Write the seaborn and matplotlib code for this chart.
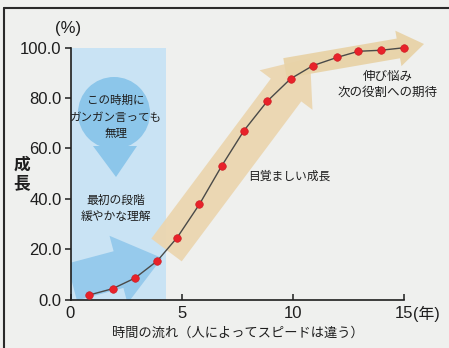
import matplotlib
matplotlib.use("Agg")
import matplotlib.pyplot as plt
import seaborn as sns
import pandas as pd
from matplotlib.patches import Rectangle, Circle, Polygon, FancyArrow

# ---- data -------------------------------------------------------------
years = [0.85, 1.9, 2.9, 3.9, 4.8, 5.8, 6.8, 7.8, 8.85, 9.9, 10.9, 12.0, 12.95, 13.95, 15.0]
growth = [1.8, 4.3, 8.5, 15.3, 24.6, 37.8, 53.0, 67.0, 78.7, 87.6, 92.8, 96.1, 98.5, 98.9, 99.9]

x_ticks = [0, 5, 10, 15]
y_ticks = [0, 20, 40, 60, 80, 100]
y_tick_labels = [f"{v:.1f}" for v in y_ticks]

x_unit = "(年)"
y_unit = "(%)"
y_title = "成\n長"
x_title = "時間の流れ（人によってスピードは違う）"
note_pressure = "この時期に\nガンガン言っても\n無理"
note_first = "最初の段階\n緩やかな理解"
note_growth = "目覚ましい成長"
note_plateau = "伸び悩み\n次の役割への期待"

df = pd.DataFrame({"year": years, "growth": growth})

# ---- style ------------------------------------------------------------
W, H = 449, 348
sns.set_theme(style="white")
plt.rcParams["font.family"] = ["Liberation Sans", "Noto Sans CJK JP", "DejaVu Sans"]
JP = ["Noto Sans CJK JP", "DejaVu Sans"]
INK = "#1e1e1e"

fig = plt.figure(figsize=(W / 100, H / 100), dpi=100)
fig.patch.set_facecolor("#eff0ee")

# page layer in pixel units (origin top-left) for the illustrations
bg = fig.add_axes([0, 0, 1, 1], zorder=0)
bg.set_xlim(0, W)
bg.set_ylim(H, 0)
bg.axis("off")

# plotting area
L, R, T, B = 70.5, 404.0, 47.5, 299.5
ax = fig.add_axes([L / W, (H - B) / H, (R - L) / W, (B - T) / H], zorder=1)
ax.patch.set_alpha(0)

# page frame
bg.plot([3.5, 3.5], [7.5, H], color="#2a2a2a", lw=1.5, clip_on=False)
bg.plot([3.5, W], [7.5, 7.5], color="#2a2a2a", lw=1.5, clip_on=False)

# early phase: blue band, drop-shaped arrow and a rising arrow
bg.add_patch(Rectangle((L, T), 95, B - T, fc="#c9e3f4", ec="none"))
bg.add_patch(Circle((114, 113), 36, fc="#8cc6ea", ec="none"))
bg.add_patch(Polygon([(93, 146), (137, 146), (116, 177)], closed=True, fc="#8cc6ea", ec="none"))
low_arrow = FancyArrow(72, 282, 90, -24, width=38, head_width=70, head_length=45,
                       length_includes_head=True, fc="#96caec", ec="none")
bg.add_patch(low_arrow)
low_arrow.set_clip_path(Rectangle((L, T), R - L, B - T, transform=bg.transData))

# growth phase and plateau arrows
bg.add_patch(FancyArrow(166.5, 250, 143.5, -192, width=38, head_width=66, head_length=40,
                        length_includes_head=True, fc="#ebd6b0", ec="none", alpha=0.95))
bg.add_patch(FancyArrow(285, 68, 139, -24, width=20, head_width=36, head_length=26,
                        length_includes_head=True, fc="#e8d3a8", ec="none", alpha=0.95))

# ---- growth curve -----------------------------------------------------
sns.lineplot(data=df, x="year", y="growth", ax=ax, color="#4a4a48", lw=1.0,
             sort=False, estimator=None, clip_on=False, zorder=3)
sns.scatterplot(data=df, x="year", y="growth", ax=ax, color="#e8222a", s=30,
                edgecolor="#c81a20", linewidth=0.4, clip_on=False, zorder=4)

ax.set_xlim(0, 15)
ax.set_ylim(0, 100)
ax.set_xticks(x_ticks)
ax.set_xticklabels([str(v) for v in x_ticks])
ax.set_yticks(y_ticks)
ax.set_yticklabels(y_tick_labels)
ax.set_xlabel("")
ax.set_ylabel("")
sns.despine(ax=ax)
for side in ("left", "bottom"):
    ax.spines[side].set_color(INK)
    ax.spines[side].set_linewidth(1.2)
ax.tick_params(axis="y", direction="out", length=4, width=1.1, color=INK,
               pad=2.5, labelsize=12, labelcolor=INK, left=True)
ax.tick_params(axis="x", direction="in", length=4, width=1.1, color=INK,
               pad=5, labelsize=12, labelcolor=INK, bottom=True)

# ---- texts ------------------------------------------------------------
bg.text(68, 28, y_unit, ha="center", va="center", fontsize=12, color=INK)
bg.text(413, 314, x_unit, ha="left", va="center", fontsize=11.5, color=INK)
bg.text(22, 174, y_title, ha="center", va="center", fontsize=12, fontweight="bold",
        linespacing=1.05, color=INK, family=JP)
bg.text(238, 333, x_title, ha="center", va="center", fontsize=9.5, color=INK, family=JP)

bg.text(116, 117, note_pressure, ha="center", va="center", fontsize=8.3,
        linespacing=1.35, color=INK, family=JP)
bg.text(116, 208, note_first, ha="center", va="center", fontsize=8.5,
        linespacing=1.3, color=INK, family=JP)
bg.text(248, 176, note_growth, ha="left", va="center", fontsize=8.5, color=INK, family=JP)
bg.text(388, 84.5, note_plateau, ha="center", va="center", fontsize=9,
        linespacing=1.3, color=INK, family=JP)

fig.savefig("out.png", dpi=100, facecolor=fig.get_facecolor())
